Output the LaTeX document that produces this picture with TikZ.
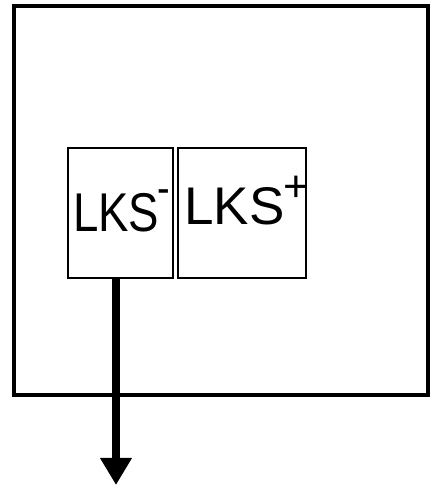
\documentclass[tikz,border=0pt]{standalone}
\usepackage{fontspec}
\setmainfont{Liberation Sans}
\usetikzlibrary{arrows.meta}
\newcommand{\supsign}[2]{\raisebox{#1}{\fontsize{44}{44}\selectfont #2}}
\begin{document}
\begin{tikzpicture}[x=1pt,y=1pt,
  frame/.style={draw=black,line width=4pt,minimum width=414pt,minimum height=389pt,inner sep=0pt},
  box/.style={draw=black,line width=2.8pt,inner sep=0pt},
  lbl/.style={font=\fontsize{53}{53}\selectfont,inner sep=0pt,anchor=base west}]
\useasboundingbox (0,0) rectangle (437,486);
\node[frame] (outer) at (221,285.5) {};
\node[box,minimum width=105pt,minimum height=130pt] (lm) at (120.5,273) {};
\node[box,minimum width=128pt,minimum height=130pt] (lp) at (242,273) {};
\node[lbl,xscale=0.86,yscale=1.03] (tm) at (73,254) {LKS\kern-2pt\supsign{28pt}{-}};
\node[lbl] (tp) at (184,261) {LKS\kern-1pt\supsign{23pt}{+}};
\coordinate (tip) at (116,1);
\draw[line width=8pt,-{Triangle[length=27pt,width=30pt]}] (lm.south -| tip) -- (tip);
\end{tikzpicture}
\end{document}
